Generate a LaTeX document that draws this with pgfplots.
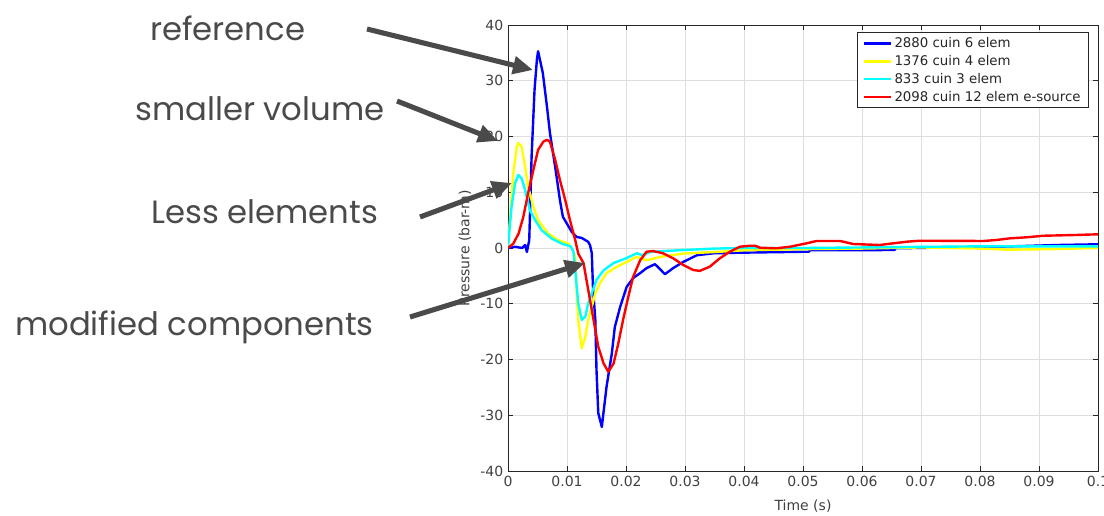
\documentclass[border=0pt]{standalone}
\usepackage{pgfplots}
\pgfplotsset{compat=1.18}
\usepackage{pgfplotstable}
\usepackage{fontspec}
\usetikzlibrary{arrows.meta}
\newfontfamily\dejavu{DejaVu Sans}
\newfontfamily\annfont{Poppins}
\definecolor{axgray}{HTML}{262626}
\definecolor{tkgray}{HTML}{404040}
\definecolor{anngray}{HTML}{4A4A4A}
\definecolor{mblue}{HTML}{0000FF}
\definecolor{myellow}{HTML}{FFFF00}
\definecolor{mcyan}{HTML}{00FFFF}
\definecolor{mred}{HTML}{FF0000}

\pgfplotstableread{
x y
0 0
0.0012 0.23
0.0024 0
0.0029 0.54
0.0032 -0.72
0.0034 0.36
0.0036 1.4
0.0040 16.4
0.0045 28.4
0.0049 33.8
0.0051 35.3
0.0059 31.4
0.0066 25.4
0.0071 20.7
0.0080 14.5
0.0088 8.6
0.0093 5.6
0.0108 2.9
0.0116 2.0
0.0125 1.8
0.0136 1.1
0.0139 0.5
0.0142 -0.9
0.0144 -7.0
0.0148 -12.9
0.0150 -21.9
0.0153 -29.6
0.0159 -32.1
0.0167 -24.9
0.0176 -18.9
0.0181 -14.2
0.0190 -10.6
0.0201 -7.0
0.0212 -5.4
0.0224 -4.5
0.0235 -3.6
0.0249 -2.9
0.0254 -3.4
0.0266 -4.7
0.0280 -3.6
0.0297 -2.5
0.0320 -1.3
0.0348 -0.95
0.0393 -0.84
0.0510 -0.66
0.0512 -0.4
0.0655 -0.36
0.0657 -0.05
0.0773 0.13
0.0836 0.24
0.0932 0.54
0.1 0.67
}\blueT

\pgfplotstableread{
x y
0 0.3
0.0003 4.4
0.0009 13.4
0.0015 18.2
0.00175 18.8
0.0023 18.2
0.0029 14.6
0.0034 11.0
0.0043 7.4
0.0051 5.0
0.0068 2.6
0.0085 1.4
0.0102 0.8
0.0108 -0.05
0.0114 -1.6
0.0116 -6.9
0.0119 -12.9
0.0125 -18.0
0.0131 -15.9
0.0136 -12.9
0.0142 -10.5
0.0148 -8.1
0.0156 -6.3
0.0167 -4.5
0.0184 -3.4
0.0201 -2.5
0.0218 -1.6
0.0235 -2.2
0.0258 -1.6
0.0297 -1.0
0.0354 -0.7
0.0400 -0.4
0.0500 -0.2
0.0600 -0.1
0.0700 0.1
0.0800 -0.1
0.0850 -0.3
0.0920 -0.2
0.1 0.0
}\yellowT

\pgfplotstableread{
x y
0 0.3
0.0001 1.4
0.0006 7.4
0.0012 11.6
0.00175 13.1
0.0023 12.5
0.0029 10.4
0.0037 6.8
0.0046 5.0
0.0057 3.2
0.0074 1.7
0.0091 0.8
0.0106 0.3
0.0111 -0.65
0.0114 -4.0
0.0119 -9.9
0.0125 -12.9
0.0131 -12.3
0.0136 -9.9
0.0142 -8.1
0.0150 -5.7
0.0162 -4.0
0.0179 -2.7
0.0201 -1.8
0.0218 -0.95
0.0228 -1.3
0.0240 -0.7
0.0290 -0.4
0.0350 -0.1
0.0400 0.0
0.0500 0.0
0.0600 0.1
0.0700 0.2
0.0800 0.3
0.0900 0.3
0.1 0.3
}\cyanT

\pgfplotstableread{
x y
0 0
0.0009 0.8
0.0018 2.6
0.0026 5.6
0.0034 9.8
0.0043 14.0
0.0051 17.6
0.0060 19.1
0.0066 19.4
0.0071 19.1
0.0080 15.8
0.0088 12.2
0.0097 8.6
0.0105 5.0
0.0114 1.4
0.0119 -1.0
0.0128 -2.7
0.0136 -7.5
0.0145 -12.9
0.0153 -17.7
0.0162 -20.7
0.0170 -22.2
0.0179 -20.7
0.0187 -17.1
0.0195 -12.9
0.0204 -8.7
0.0212 -5.2
0.0224 -2.2
0.0235 -0.66
0.0246 -0.54
0.0263 -0.95
0.0280 -1.85
0.0297 -3.05
0.0314 -3.95
0.0325 -4.1
0.0342 -3.35
0.0359 -1.85
0.0376 -0.66
0.0393 0.23
0.0410 0.41
0.0419 0.41
0.0427 0.05
0.0455 -0.05
0.0478 0.23
0.0506 0.84
0.0523 1.26
0.0563 1.26
0.0585 0.72
0.0630 0.54
0.0653 0.84
0.0676 1.13
0.0698 1.31
0.0806 1.26
0.0828 1.44
0.0851 1.74
0.0879 1.92
0.0907 2.2
0.0964 2.34
0.1 2.46
}\redT

\begin{document}
\begin{tikzpicture}
\path[use as bounding box] (0,0) rectangle (828pt,-386.25pt);
\begin{axis}[
  at={(381pt,-353.25pt)}, anchor=south west,
  scale only axis, width=442.5pt, height=334.5pt,
  xmin=0, xmax=0.1, ymin=-40, ymax=40,
  scaled x ticks=false,
  xtick={0,0.01,0.02,0.03,0.04,0.05,0.06,0.07,0.08,0.09,0.1},
  xticklabels={0,0.01,0.02,0.03,0.04,0.05,0.06,0.07,0.08,0.09,0.1},
  ytick={-40,-30,-20,-10,0,10,20,30,40},
  yticklabels={-40,-30,-20,-10,0,10,20,30,40},
  grid=major,
  major grid style={color=black!13, line width=0.6pt},
  tick align=inside,
  major tick length=4pt,
  tick style={color=axgray, line width=0.6pt},
  axis line style={color=axgray, line width=0.7pt},
  ticklabel style={font=\dejavu\fontsize{10.5}{12}\selectfont, text=tkgray},
  xlabel={Time (s)}, ylabel={Pressure (bar-m)},
  label style={font=\dejavu\fontsize{10.5}{12}\selectfont, text=tkgray},
  xlabel style={yshift=-3.5pt},
  legend style={at={(0.985,0.984)}, anchor=north east, draw=axgray, fill=white,
    font=\dejavu\fontsize{10}{12}\selectfont, text=black!85,
    inner xsep=4pt, inner ysep=1.5pt, row sep=0.3pt, line width=0.7pt},
  legend cell align=left,
  legend image code/.code={\draw[#1, line width=2pt] (0pt,0pt) -- (20pt,0pt);},
  every axis plot/.append style={line width=1.8pt, line join=round},
]
\addplot[color=mblue] table[x=x,y=y] {\blueT};
\addlegendentry{2880 cuin 6 elem}
\addplot[color=myellow] table[x=x,y=y] {\yellowT};
\addlegendentry{1376 cuin 4 elem}
\addplot[color=mcyan] table[x=x,y=y] {\cyanT};
\addlegendentry{833 cuin 3 elem}
\addplot[color=mred] table[x=x,y=y] {\redT};
\addlegendentry{2098 cuin 12 elem e-source}
\end{axis}
\begin{scope}[x=0.75pt, y=-0.75pt]
  \tikzset{ann/.style={font=\annfont\fontsize{24.2}{28}\selectfont, text=anngray, anchor=base west, inner sep=0pt},
           arr/.style={draw=anngray, line width=3.8pt, -{Triangle[length=15pt,width=13pt]}}}
  \node[ann] at (150,40) {reference};
  \node[ann] at (135,120) {smaller volume};
  \node[ann] at (151,223) {Less elements};
  \node[ann] at (15,335) {modified components};
  \draw[arr] (367,29) -- (533,70);
  \draw[arr] (397,101) -- (498,141);
  \draw[arr] (420,217) -- (512,183);
  \draw[arr] (410,317) -- (585,263);
\end{scope}
\end{tikzpicture}
\end{document}
